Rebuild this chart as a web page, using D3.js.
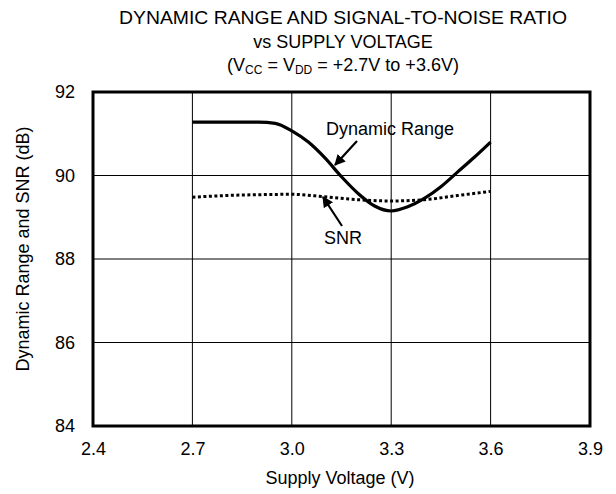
<!DOCTYPE html>
<html><head><meta charset="utf-8">
<script src="https://cdn.jsdelivr.net/npm/d3@7"></script>
<style>body{margin:0;background:#fff}svg{display:block}text{font-family:"Liberation Sans",Arial,sans-serif;fill:#000}</style>
</head><body>
<script>
const voltageDR = [2.7, 2.8, 2.9, 2.95, 3.0, 3.05, 3.1, 3.15, 3.2, 3.25, 3.3, 3.35, 3.4, 3.45, 3.5, 3.55, 3.6];
const dynamicRange = [91.28, 91.28, 91.28, 91.25, 91.07, 90.8, 90.42, 89.97, 89.57, 89.27, 89.15, 89.25, 89.45, 89.73, 90.08, 90.43, 90.8];
const voltageSNR = [2.7, 2.8, 2.9, 3.0, 3.1, 3.2, 3.3, 3.4, 3.5, 3.6];
const snr = [89.48, 89.52, 89.54, 89.55, 89.49, 89.42, 89.39, 89.42, 89.52, 89.62];
const xTicks = [2.4, 2.7, 3.0, 3.3, 3.6, 3.9];
const yTicks = [84, 86, 88, 90, 92];
const titleLines = ["DYNAMIC RANGE AND SIGNAL-TO-NOISE RATIO", "vs SUPPLY VOLTAGE"];

const W = 616, H = 494;
const FONT = "Liberation Sans, Arial, sans-serif";
const svg = d3.select("body").append("svg").attr("width", W).attr("height", H);
const x = d3.scaleLinear().domain([2.4, 3.9]).range([93, 590]);
const y = d3.scaleLinear().domain([84, 92]).range([426, 92]);

// grid
svg.append("g").selectAll("line").data(xTicks.slice(1, -1)).join("line")
  .attr("x1", d => x(d)).attr("x2", d => x(d)).attr("y1", y(92)).attr("y2", y(84))
  .attr("stroke", "#000").attr("stroke-width", 1);
svg.append("g").selectAll("line").data(yTicks.slice(1, -1)).join("line")
  .attr("y1", d => y(d)).attr("y2", d => y(d)).attr("x1", x(2.4)).attr("x2", x(3.9))
  .attr("stroke", "#000").attr("stroke-width", 1);

// axes labels via d3 axes
const xAxis = svg.append("g").attr("transform", `translate(0,${y(84)})`)
  .call(d3.axisBottom(x).tickValues(xTicks).tickFormat(d3.format(".1f")).tickSize(0).tickPadding(16));
xAxis.select(".domain").remove();
xAxis.selectAll("text").attr("font-size", 18).attr("font-family", FONT);
const yAxis = svg.append("g").attr("transform", `translate(${x(2.4)},0)`)
  .call(d3.axisLeft(y).tickValues(yTicks).tickFormat(d3.format("d")).tickSize(0).tickPadding(18));
yAxis.select(".domain").remove();
yAxis.selectAll("text").attr("font-size", 18).attr("font-family", FONT);

// frame
svg.append("rect").attr("x", x(2.4)).attr("y", y(92)).attr("width", x(3.9) - x(2.4)).attr("height", y(84) - y(92))
  .attr("fill", "none").attr("stroke", "#000").attr("stroke-width", 3);

// lines
const line = d3.line().curve(d3.curveMonotoneX);
svg.append("path").attr("d", line(voltageDR.map((v, i) => [x(v), y(dynamicRange[i])])))
  .attr("fill", "none").attr("stroke", "#000").attr("stroke-width", 3.2);
svg.append("path").attr("d", line(voltageSNR.map((v, i) => [x(v), y(snr[i])])))
  .attr("fill", "none").attr("stroke", "#000").attr("stroke-width", 3).attr("stroke-dasharray", "3,2.5");

// arrows
const defs = svg.append("defs");
defs.append("marker").attr("id", "ah").attr("viewBox", "0 0 10 10").attr("refX", 9).attr("refY", 5)
  .attr("markerWidth", 5).attr("markerHeight", 5).attr("orient", "auto").attr("markerUnits", "strokeWidth")
  .append("path").attr("d", "M0,0 L10,5 L0,10 z").attr("fill", "#000");
svg.append("line").attr("x1", 357).attr("y1", 141).attr("x2", 335).attr("y2", 165)
  .attr("stroke", "#000").attr("stroke-width", 2.2).attr("marker-end", "url(#ah)");
svg.append("line").attr("x1", 342).attr("y1", 226).attr("x2", 323).attr("y2", 197)
  .attr("stroke", "#000").attr("stroke-width", 2.2).attr("marker-end", "url(#ah)");
svg.append("text").attr("x", 390).attr("y", 135).attr("text-anchor", "middle").attr("font-size", 18).text("Dynamic Range");
svg.append("text").attr("x", 343).attr("y", 244).attr("text-anchor", "middle").attr("font-size", 18).text("SNR");

// titles
svg.append("text").attr("x", 343).attr("y", 24).attr("text-anchor", "middle").attr("font-size", 18)
  .attr("textLength", 448).attr("lengthAdjust", "spacingAndGlyphs").text(titleLines[0]);
svg.append("text").attr("x", 343).attr("y", 48).attr("text-anchor", "middle").attr("font-size", 18).text(titleLines[1]);
const t3 = svg.append("text").attr("x", 343).attr("y", 71).attr("text-anchor", "middle").attr("font-size", 18);
t3.append("tspan").text("(V");
t3.append("tspan").attr("font-size", 12).attr("dy", 3).text("CC");
t3.append("tspan").attr("dy", -3).text(" = V");
t3.append("tspan").attr("font-size", 12).attr("dy", 3).text("DD");
t3.append("tspan").attr("dy", -3).text(" = +2.7V to +3.6V)");

svg.append("text").attr("x", 340).attr("y", 484).attr("text-anchor", "middle").attr("font-size", 18).text("Supply Voltage (V)");
svg.append("text").attr("transform", `translate(29,${(y(84) + y(92)) / 2 - 10}) rotate(-90)`)
  .attr("text-anchor", "middle").attr("font-size", 18).text("Dynamic Range and SNR (dB)");
</script>
</body></html>
